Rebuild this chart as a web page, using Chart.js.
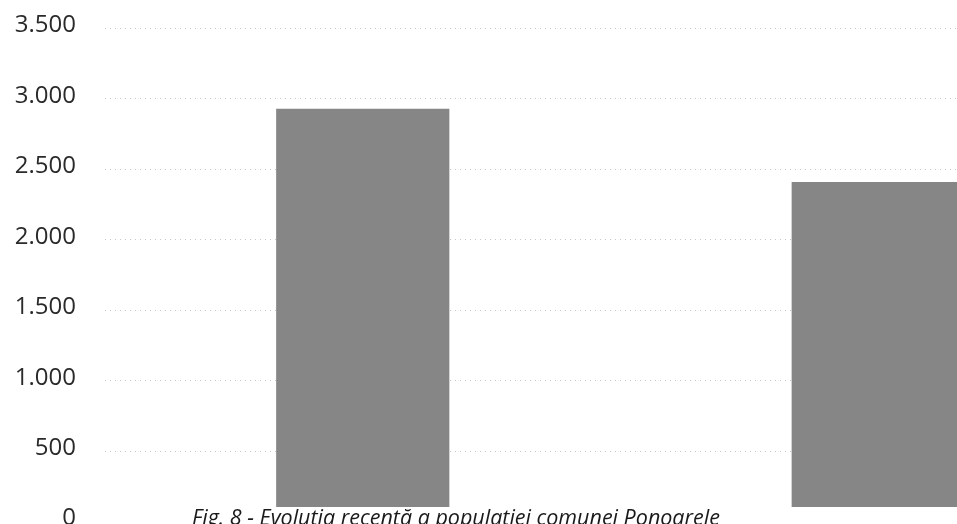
<!DOCTYPE html>
<html>
<head>
<meta charset="utf-8">
<script src="https://cdn.jsdelivr.net/npm/chart.js@4/dist/chart.umd.min.js"></script>
<style>
  html, body { margin: 0; padding: 0; background: #fff; overflow: hidden; }
  #wrap { width: 1150px; height: 580px; margin-top: -15px; }
</style>
</head>
<body>
<div id="wrap"><canvas id="chart" width="1150" height="580"></canvas></div>
<script>
// years are not visible in the scan (cut off), kept only as category keys
const years = ['2002', '2011'];
const population = [2930, 2410];
const yTicks = [0, 500, 1000, 1500, 2000, 2500, 3000, 3500];
const yTickLabels = ['0', '500', '1.000', '1.500', '2.000', '2.500', '3.000', '3.500'];
const caption = 'Fig. 8 - Evoluția recentă a populației comunei Ponoarele';

// canvas sits 15px above the page top
const shift = 15;

const captionPlugin = {
  id: 'caption',
  afterDraw(chart) {
    const ctx = chart.ctx;
    ctx.save();
    // caption strip printed over the foot of the bars
    ctx.fillStyle = '#fff';
    ctx.fillRect(100, 507 + shift, chart.width - 100, chart.height - 507 - shift);
    ctx.fillStyle = '#1a1a1a';
    ctx.font = 'italic 21.5px "Open Sans", sans-serif';
    ctx.textBaseline = 'alphabetic';
    ctx.fillText(caption, 192, 525 + shift, 530);
    ctx.restore();
  },
};

new Chart(document.getElementById('chart'), {
  type: 'bar',
  data: {
    labels: years,
    datasets: [
      {
        data: population,
        backgroundColor: '#868686',
        borderWidth: 0,
        categoryPercentage: 1,
        barPercentage: 0.336,
      },
    ],
  },
  options: {
    responsive: false,
    animation: false,
    layout: { padding: { top: 0, bottom: 0, left: 0, right: 14 } },
    plugins: {
      legend: { display: false },
      tooltip: { enabled: false },
    },
    scales: {
      x: { display: false },
      y: {
        min: 0,
        max: 3500,
        afterFit: (scale) => { scale.width = 105; },
        afterBuildTicks: (scale) => { scale.ticks = yTicks.map((v) => ({ value: v })); },
        border: { display: false, dash: [1, 4] },
        grid: {
          drawTicks: false,
          color: 'rgba(0,0,0,0.22)',
          lineWidth: 1,
        },
        ticks: {
          padding: 29,
          labelOffset: -3,
          color: '#2a2a2a',
          font: { family: '"Open Sans", sans-serif', size: 24 },
          callback: (value) => yTickLabels[yTicks.indexOf(value)] ?? '',
        },
      },
    },
  },
  plugins: [captionPlugin],
});
</script>
</body>
</html>
